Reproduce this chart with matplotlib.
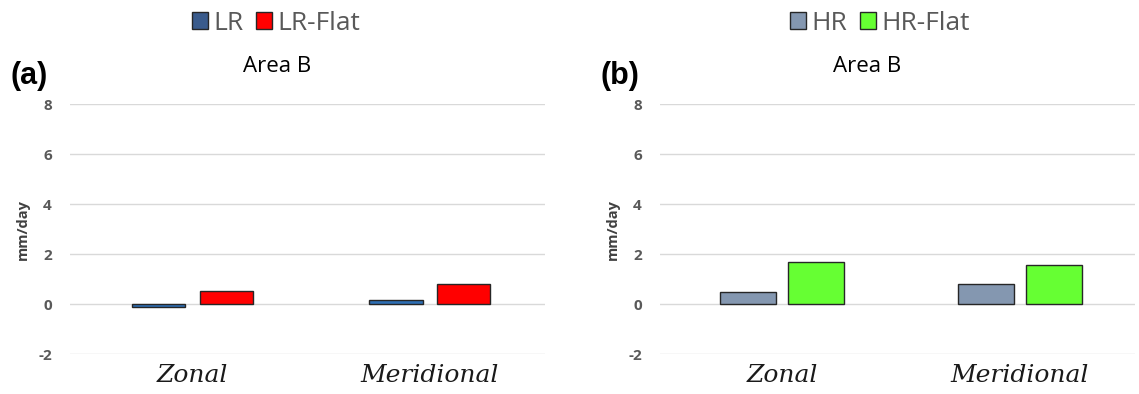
import numpy as np
import matplotlib.pyplot as plt

categories = ["Zonal", "Meridional"]
lr = [-0.1, 0.18]
lr_flat = [0.52, 0.8]
hr = [0.48, 0.8]
hr_flat = [1.68, 1.56]
yticks = [-2, 0, 2, 4, 6, 8]

W, H = 1139, 394
fig = plt.figure(figsize=(W / 100, H / 100), dpi=100)

panels = [
    ("(a)", 70, [("LR", lr, "#2e6fb5", "#3a5b8c"), ("LR-Flat", lr_flat, "#ff0000", "#ff0000")], 276, 0.225),
    ("(b)", 660, [("HR", hr, "#8497b0", "#8497b0"), ("HR-Flat", hr_flat, "#66ff33", "#66ff33")], 880, 0.235),
]

for tag, x0, series, leg_x, width in panels:
    ax = fig.add_axes([x0 / W, (H - 354) / H, 475 / W, 250 / H])
    x = np.arange(len(categories))
    offs = [-0.143, 0.143]
    handles = []
    for (name, vals, col, legcol), off in zip(series, offs):
        ax.bar(x + off, vals, width, color=col, edgecolor="#262626", linewidth=1.0, zorder=3)
        handles.append(plt.Rectangle((0, 0), 1, 1, facecolor=legcol, edgecolor="#262626", linewidth=1.0, label=name))
    ax.set_xlim(-0.515, 1.485)
    ax.set_ylim(-2, 8)
    ax.set_yticks(yticks)
    ax.set_yticklabels([str(t) for t in yticks], fontsize=11, fontweight="bold", color="#595959", family="Open Sans")
    ax.set_xticks(x)
    ax.set_xticklabels(categories, fontsize=18, style="italic", family="DejaVu Serif", color="#1a1a1a")
    ax.tick_params(axis="both", length=0)
    ax.tick_params(axis="y", pad=13)
    ax.tick_params(axis="x", pad=7)
    ax.grid(axis="y", color="#d9d9d9", linewidth=1.0, zorder=0)
    for s in ax.spines.values():
        s.set_visible(False)
    ax.set_ylabel("mm/day", fontsize=10.5, fontweight="bold", color="#404040", family="Open Sans", labelpad=6)

    fig.text((x0 - 60) / W, 1 - 76 / H, tag, fontsize=22, fontweight="bold", family="Liberation Sans", va="center", ha="left")
    fig.text((x0 + 207) / W, 1 - 66 / H, "Area B", fontsize=16, family="Open Sans", va="center", ha="center")
    leg = fig.legend(handles=handles, loc="center", bbox_to_anchor=(leg_x / W, 1 - 23 / H), ncol=2, frameon=False,
                     prop={"family": "Open Sans", "size": 19}, handlelength=0.6, handleheight=0.6,
                     handletextpad=0.2, columnspacing=0.5)
    for t in leg.get_texts():
        t.set_color("#595959")

fig.savefig("out.png", dpi=100)
